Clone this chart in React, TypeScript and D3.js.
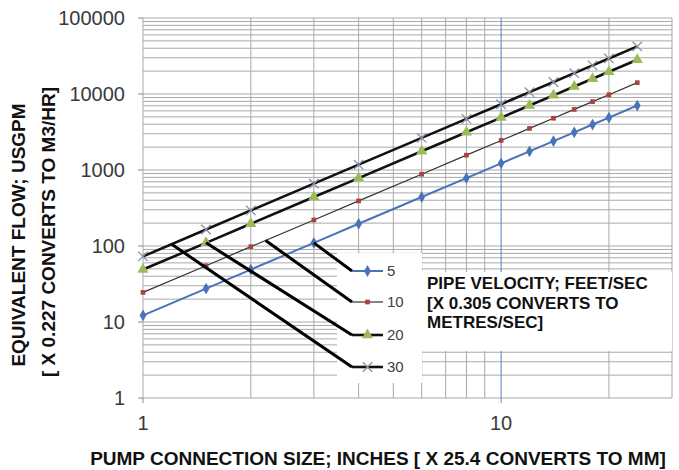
import React from "react";
import * as d3 from "d3";

// pipe sizes (inches) and equivalent flow (USGPM) for each pipe velocity (ft/s)
const sizes = [1, 1.5, 2, 3, 4, 6, 8, 10, 12, 14, 16, 18, 20, 24];
const flow5 = [12.2, 27.5, 49, 110, 196, 441, 783, 1224, 1762, 2399, 3133, 3965, 4895, 7049];
const flow10 = [24.5, 55, 98, 220, 392, 881, 1567, 2448, 3525, 4798, 6267, 7931, 9792, 14100];
const flow20 = [49, 110, 196, 441, 783, 1762, 3133, 4895, 7049, 9595, 12533, 15863, 19583, 28200];
const flow30 = [73, 165, 294, 661, 1175, 2644, 4700, 7343, 10574, 14392, 18800, 23794, 29375, 42300];

const velocities = ["5", "10", "20", "30"];
// where each leader line leaves its series (size, flow)
const leaderStarts: [number, number][] = [
    [3, 110],
    [2.2, 118],
    [1.5, 110],
    [1.2, 106],
];

const yTicks = [1, 10, 100, 1000, 10000, 100000];
const xTicks = [1, 10];
const xGrid = [1, 2, 3, 4, 5, 6, 7, 8, 9, 10, 20, 30];

const noteLines = ["PIPE VELOCITY; FEET/SEC", "[X 0.305 CONVERTS TO", "METRES/SEC]"];

const W = 679;
const H = 470;
const FONT = "'Liberation Sans', Arial, sans-serif";

const timesType = (d3 as any).symbolTimes || d3.symbolCross;

const seriesStyle = [
    { data: flow5, line: "#4a72b8", width: 2, marker: d3.symbolDiamond, size: 40, fill: "#4a72b8", stroke: "none" },
    { data: flow10, line: "#3a3030", width: 1.2, marker: d3.symbolSquare, size: 22, fill: "#a8433e", stroke: "none" },
    { data: flow20, line: "#111111", width: 2.6, marker: d3.symbolTriangle, size: 55, fill: "#9bbb59", stroke: "none" },
    { data: flow30, line: "#111111", width: 2.6, marker: timesType, size: 60, fill: "none", stroke: "#8a90a8" },
];

function Chart() {
    const x = d3.scaleLog().domain([1, 30]).range([143, 672]);
    const y = d3.scaleLog().domain([1, 100000]).range([398, 18]);

    const yGrid: number[] = [];
    for (let k = 0; k < 5; k++) {
        for (let m = 1; m < 10; m++) yGrid.push(m * Math.pow(10, k));
    }
    yGrid.push(100000);

    const lineGen = d3
        .line<number>()
        .x((d, i) => x(sizes[i]))
        .y((d) => y(d));

    // legend layout
    const legendRows = [271, 302, 335, 367];
    const legX0 = 352;
    const legX1 = 383;

    return (
        <svg width={W} height={H} style={{ display: "block", background: "#fff" }}>
            {/* grid */}
            {yGrid.map((v, i) => (
                <line key={"hy" + i} x1={143} x2={672} y1={y(v)} y2={y(v)} stroke="#a9a9a9" strokeWidth={1} />
            ))}
            {xGrid.map((v, i) => (
                <line
                    key={"vx" + i}
                    x1={x(v)}
                    x2={x(v)}
                    y1={18}
                    y2={398}
                    stroke={v === 10 ? "#5a7dbd" : "#a9a9a9"}
                    strokeWidth={1}
                />
            ))}
            {/* axis ticks */}
            {yTicks.map((v) => (
                <line key={"yt" + v} x1={138} x2={143} y1={y(v)} y2={y(v)} stroke="#888" />
            ))}
            {xTicks.map((v) => (
                <line key={"xt" + v} x1={x(v)} x2={x(v)} y1={398} y2={403} stroke="#888" />
            ))}
            {/* white boxes for legend and note */}
            <rect x={337} y={253} width={85} height={130} fill="#fff" />
            <rect x={422} y={272} width={250} height={79} fill="#fff" />

            {/* series */}
            {seriesStyle.map((s, si) => (
                <g key={"s" + si}>
                    <path d={lineGen(s.data) || ""} fill="none" stroke={s.line} strokeWidth={s.width} />
                    {s.data.map((v, i) => (
                        <path
                            key={i}
                            transform={`translate(${x(sizes[i])},${y(v)})`}
                            d={d3.symbol().type(s.marker).size(s.size)() || ""}
                            fill={s.fill}
                            stroke={s.stroke}
                            strokeWidth={1.3}
                        />
                    ))}
                </g>
            ))}

            {/* leader lines */}
            {leaderStarts.map((p, i) => (
                <line
                    key={"ld" + i}
                    x1={x(p[0])}
                    y1={y(p[1])}
                    x2={legX0}
                    y2={legendRows[i]}
                    stroke="#000"
                    strokeWidth={3}
                />
            ))}

            {/* legend */}
            {seriesStyle.map((s, i) => (
                <g key={"lg" + i}>
                    <line x1={legX0} x2={legX1} y1={legendRows[i]} y2={legendRows[i]} stroke={s.line} strokeWidth={s.width} />
                    <path
                        transform={`translate(${(legX0 + legX1) / 2},${legendRows[i]})`}
                        d={d3.symbol().type(s.marker).size(s.size)() || ""}
                        fill={s.fill}
                        stroke={s.stroke}
                        strokeWidth={1.3}
                    />
                    <text x={387} y={legendRows[i] + 5} fontFamily={FONT} fontSize={15} fill="#404040">
                        {velocities[i]}
                    </text>
                </g>
            ))}

            {/* note */}
            {noteLines.map((t, i) => (
                <text key={"n" + i} x={427} y={289 + i * 19.5} fontFamily={FONT} fontSize={17} fontWeight="bold" fill="#111">
                    {t}
                </text>
            ))}

            {/* tick labels */}
            {yTicks.map((v) => (
                <text key={"yl" + v} x={125} y={y(v) + 7} textAnchor="end" fontFamily={FONT} fontSize={20} fill="#3a3a3a">
                    {v}
                </text>
            ))}
            {xTicks.map((v) => (
                <text key={"xl" + v} x={x(v)} y={430} textAnchor="middle" fontFamily={FONT} fontSize={20} fill="#3a3a3a">
                    {v}
                </text>
            ))}

            {/* axis titles */}
            <text x={378} y={465} textAnchor="middle" fontFamily={FONT} fontSize={19} fontWeight="bold" fill="#111">
                PUMP CONNECTION SIZE; INCHES [ X 25.4 CONVERTS TO MM]
            </text>
            <text
                transform="translate(25,235) rotate(-90)"
                textAnchor="middle"
                fontFamily={FONT}
                fontSize={19}
                fontWeight="bold"
                fill="#111"
            >
                EQUIVALENT FLOW; USGPM
            </text>
            <text
                transform="translate(55,232) rotate(-90)"
                textAnchor="middle"
                fontFamily={FONT}
                fontSize={19}
                fontWeight="bold"
                fill="#111"
            >
                [ X 0.227 CONVERTS TO M3/HR]
            </text>
        </svg>
    );
}

export default function App() {
    return (
        <div style={{ position: "absolute", left: 0, top: 0 }}>
            <Chart />
        </div>
    );
}
